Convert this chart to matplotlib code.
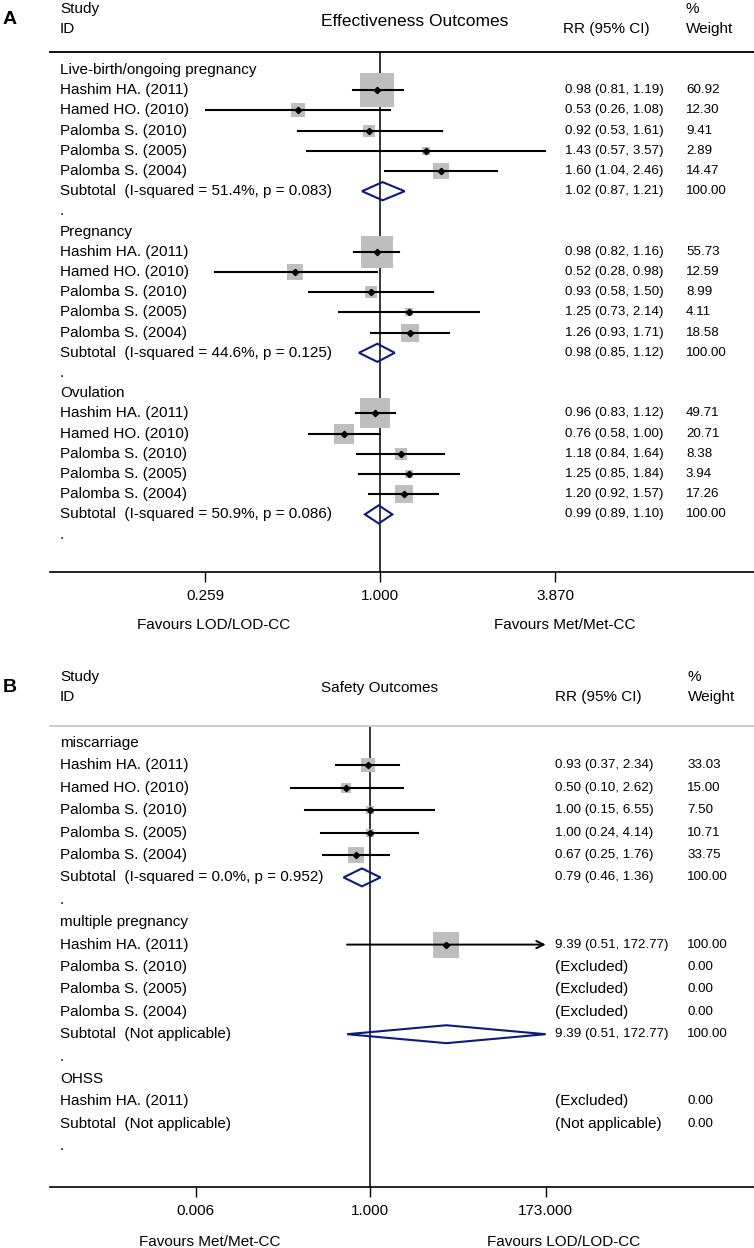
import matplotlib
matplotlib.use("Agg")
import matplotlib.pyplot as plt
import matplotlib.transforms as mtransforms
from matplotlib.patches import Polygon

plt.rcParams['font.family'] = ['Liberation Sans', 'DejaVu Sans']

# ---- data: panel A (effectiveness) ----
studies = ["Hashim HA. (2011)", "Hamed HO. (2010)", "Palomba S. (2010)",
           "Palomba S. (2005)", "Palomba S. (2004)"]

eff_groups = ["Live-birth/ongoing pregnancy", "Pregnancy", "Ovulation"]
eff_rr = [[0.98, 0.53, 0.92, 1.43, 1.60],
          [0.98, 0.52, 0.93, 1.25, 1.26],
          [0.96, 0.76, 1.18, 1.25, 1.20]]
eff_lo = [[0.81, 0.26, 0.53, 0.57, 1.04],
          [0.82, 0.28, 0.58, 0.73, 0.93],
          [0.83, 0.58, 0.84, 0.85, 0.92]]
eff_hi = [[1.19, 1.08, 1.61, 3.57, 2.46],
          [1.16, 0.98, 1.50, 2.14, 1.71],
          [1.12, 1.00, 1.64, 1.84, 1.57]]
eff_w = [[60.92, 12.30, 9.41, 2.89, 14.47],
         [55.73, 12.59, 8.99, 4.11, 18.58],
         [49.71, 20.71, 8.38, 3.94, 17.26]]
eff_sub_rr = [1.02, 0.98, 0.99]
eff_sub_lo = [0.87, 0.85, 0.89]
eff_sub_hi = [1.21, 1.12, 1.10]
eff_sub_het = ["(I-squared = 51.4%, p = 0.083)",
               "(I-squared = 44.6%, p = 0.125)",
               "(I-squared = 50.9%, p = 0.086)"]

# ---- data: panel B (safety) ----
saf_groups = ["miscarriage", "multiple pregnancy", "OHSS"]
saf_studies = [studies,
               ["Hashim HA. (2011)", "Palomba S. (2010)", "Palomba S. (2005)", "Palomba S. (2004)"],
               ["Hashim HA. (2011)"]]
saf_rr = [[0.93, 0.50, 1.00, 1.00, 0.67], [9.39, None, None, None], [None]]
saf_lo = [[0.37, 0.10, 0.15, 0.24, 0.25], [0.51, None, None, None], [None]]
saf_hi = [[2.34, 2.62, 6.55, 4.14, 1.76], [172.77, None, None, None], [None]]
saf_w = [[33.03, 15.00, 7.50, 10.71, 33.75], [100.00, 0.00, 0.00, 0.00], [0.00]]
saf_sub_rr = [0.79, 9.39, None]
saf_sub_lo = [0.46, 0.51, None]
saf_sub_hi = [1.36, 172.77, None]
saf_sub_w = [100.00, 100.00, 0.00]
saf_sub_het = ["(I-squared = 0.0%, p = 0.952)", "(Not applicable)", "(Not applicable)"]

eff_ticks = [0.259, 1.0, 3.870]
saf_ticks = [0.006, 1.0, 173.0]

W, H = 754, 1248
fig = plt.figure(figsize=(W / 100, H / 100), dpi=100)


def fx(px):
    return px / W


def fy(py):
    return 1 - py / H


GRAY = '#bebebe'
NAVY = '#0d1a80'
FS = 11
FS_NUM = 9.6


def make_axes(top_px, bot_px, x_lo, x_hi, row0_px, step_px, top_color):
    ax = fig.add_axes([fx(50), fy(bot_px), 1 - fx(50), fy(top_px) - fy(bot_px)])
    ax.set_xscale('log')
    ax.set_xlim(x_lo, x_hi)
    ax.set_ylim((bot_px - row0_px) / step_px, (top_px - row0_px) / step_px)
    ax.spines['left'].set_visible(False)
    ax.spines['right'].set_visible(False)
    ax.spines['top'].set_color(top_color)
    ax.spines['top'].set_linewidth(1.3)
    ax.spines['bottom'].set_linewidth(1.2)
    ax.set_yticks([])
    ax.minorticks_off()
    ax.tick_params(axis='x', which='both', direction='out', length=7, width=1.0,
                   labelsize=FS, pad=5)
    ax.axvline(1.0, color='black', lw=1.1, zorder=1)
    return ax


def draw_panel(ax, groups, names, rr, lo, hi, w, sub_rr, sub_lo, sub_hi, sub_w, sub_het,
               box_k, dia_h, eff_px, w_px, arrow_max):
    tr = mtransforms.blended_transform_factory(fig.transFigure, ax.transData)
    row = 0
    for g in range(len(groups)):
        ax.text(fx(60), row, groups[g], transform=tr, fontsize=FS, va='center')
        row += 1
        for i in range(len(names[g])):
            ax.text(fx(60), row, names[g][i], transform=tr, fontsize=FS, va='center')
            if rr[g][i] is None:
                ax.text(fx(eff_px), row, "(Excluded)", transform=tr, fontsize=FS, va='center')
            else:
                side = box_k * w[g][i] ** 0.5 * 0.72
                ax.scatter([rr[g][i]], [row], s=side ** 2, marker='s', color=GRAY,
                           linewidths=0, zorder=2)
                if hi[g][i] >= arrow_max:
                    ax.annotate('', xy=(hi[g][i], row), xytext=(lo[g][i], row),
                                arrowprops=dict(arrowstyle='->', lw=1.4, color='black',
                                                mutation_scale=13, shrinkA=0, shrinkB=0),
                                zorder=3)
                else:
                    ax.plot([lo[g][i], hi[g][i]], [row, row], color='black', lw=1.5, zorder=3)
                ax.plot([rr[g][i]], [row], marker='D', ms=3.2, color='black', zorder=4)
                ax.text(fx(eff_px), row, f"{rr[g][i]:.2f} ({lo[g][i]:.2f}, {hi[g][i]:.2f})",
                        transform=tr, fontsize=FS_NUM, va='center')
            ax.text(fx(w_px), row, f"{w[g][i]:.2f}", transform=tr, fontsize=FS_NUM, va='center')
            row += 1
        ax.text(fx(60), row, "Subtotal  " + sub_het[g], transform=tr, fontsize=FS, va='center')
        if sub_rr[g] is None:
            ax.text(fx(eff_px), row, "(Not applicable)", transform=tr, fontsize=FS, va='center')
        else:
            dia = Polygon([(sub_lo[g], row), (sub_rr[g], row - dia_h),
                           (sub_hi[g], row), (sub_rr[g], row + dia_h)],
                          closed=True, fill=False, edgecolor=NAVY, lw=1.5, zorder=3)
            ax.add_patch(dia)
            ax.text(fx(eff_px), row, f"{sub_rr[g]:.2f} ({sub_lo[g]:.2f}, {sub_hi[g]:.2f})",
                    transform=tr, fontsize=FS_NUM, va='center')
        ax.text(fx(w_px), row, f"{sub_w[g]:.2f}", transform=tr, fontsize=FS_NUM, va='center')
        row += 1
        ax.text(fx(60), row, ".", transform=tr, fontsize=FS, va='center')
        row += 1


# ---- panel A ----
axA = make_axes(52, 572, 0.0782, 17.96, 70, 20.2, 'black')
draw_panel(axA, eff_groups, [studies] * 3, eff_rr, eff_lo, eff_hi, eff_w,
           eff_sub_rr, eff_sub_lo, eff_sub_hi, [100.0] * 3, eff_sub_het,
           box_k=4.23, dia_h=0.45, eff_px=565, w_px=686, arrow_max=1e9)
axA.set_xticks(eff_ticks)
axA.set_xticklabels([f"{t:.3f}" for t in eff_ticks])

fig.text(fx(3), fy(19), "A", fontsize=14, fontweight='bold', va='center')
fig.text(fx(60), fy(9), "Study", fontsize=FS, va='center')
fig.text(fx(60), fy(29), "ID", fontsize=FS, va='center')
fig.text(fx(321), fy(21), "Effectiveness Outcomes", fontsize=12.5, va='center')
fig.text(fx(563), fy(29), "RR (95% CI)", fontsize=FS, va='center')
fig.text(fx(686), fy(9), "%", fontsize=FS, va='center')
fig.text(fx(686), fy(29), "Weight", fontsize=FS, va='center')
fig.text(fx(214), fy(625), "Favours LOD/LOD-CC", fontsize=FS, va='center', ha='center')
fig.text(fx(565), fy(625), "Favours Met/Met-CC", fontsize=FS, va='center', ha='center')

# ---- panel B ----
axB = make_axes(726, 1187, 8.4e-5, 77700, 743, 22.4, '#c8c8c8')
draw_panel(axB, saf_groups, saf_studies, saf_rr, saf_lo, saf_hi, saf_w,
           saf_sub_rr, saf_sub_lo, saf_sub_hi, saf_sub_w, saf_sub_het,
           box_k=2.6, dia_h=0.4, eff_px=555, w_px=687, arrow_max=saf_ticks[-1] * 0.95)
axB.set_xticks(saf_ticks)
axB.set_xticklabels([f"{t:.3f}" for t in saf_ticks])

fig.text(fx(3), fy(687), "B", fontsize=14, fontweight='bold', va='center')
fig.text(fx(60), fy(677), "Study", fontsize=FS, va='center')
fig.text(fx(60), fy(697), "ID", fontsize=FS, va='center')
fig.text(fx(321), fy(688), "Safety Outcomes", fontsize=FS, va='center')
fig.text(fx(555), fy(697), "RR (95% CI)", fontsize=FS, va='center')
fig.text(fx(688), fy(677), "%", fontsize=FS, va='center')
fig.text(fx(688), fy(697), "Weight", fontsize=FS, va='center')
fig.text(fx(210), fy(1242), "Favours Met/Met-CC", fontsize=FS, va='center', ha='center')
fig.text(fx(564), fy(1242), "Favours LOD/LOD-CC", fontsize=FS, va='center', ha='center')

fig.savefig("out.png", dpi=100)
